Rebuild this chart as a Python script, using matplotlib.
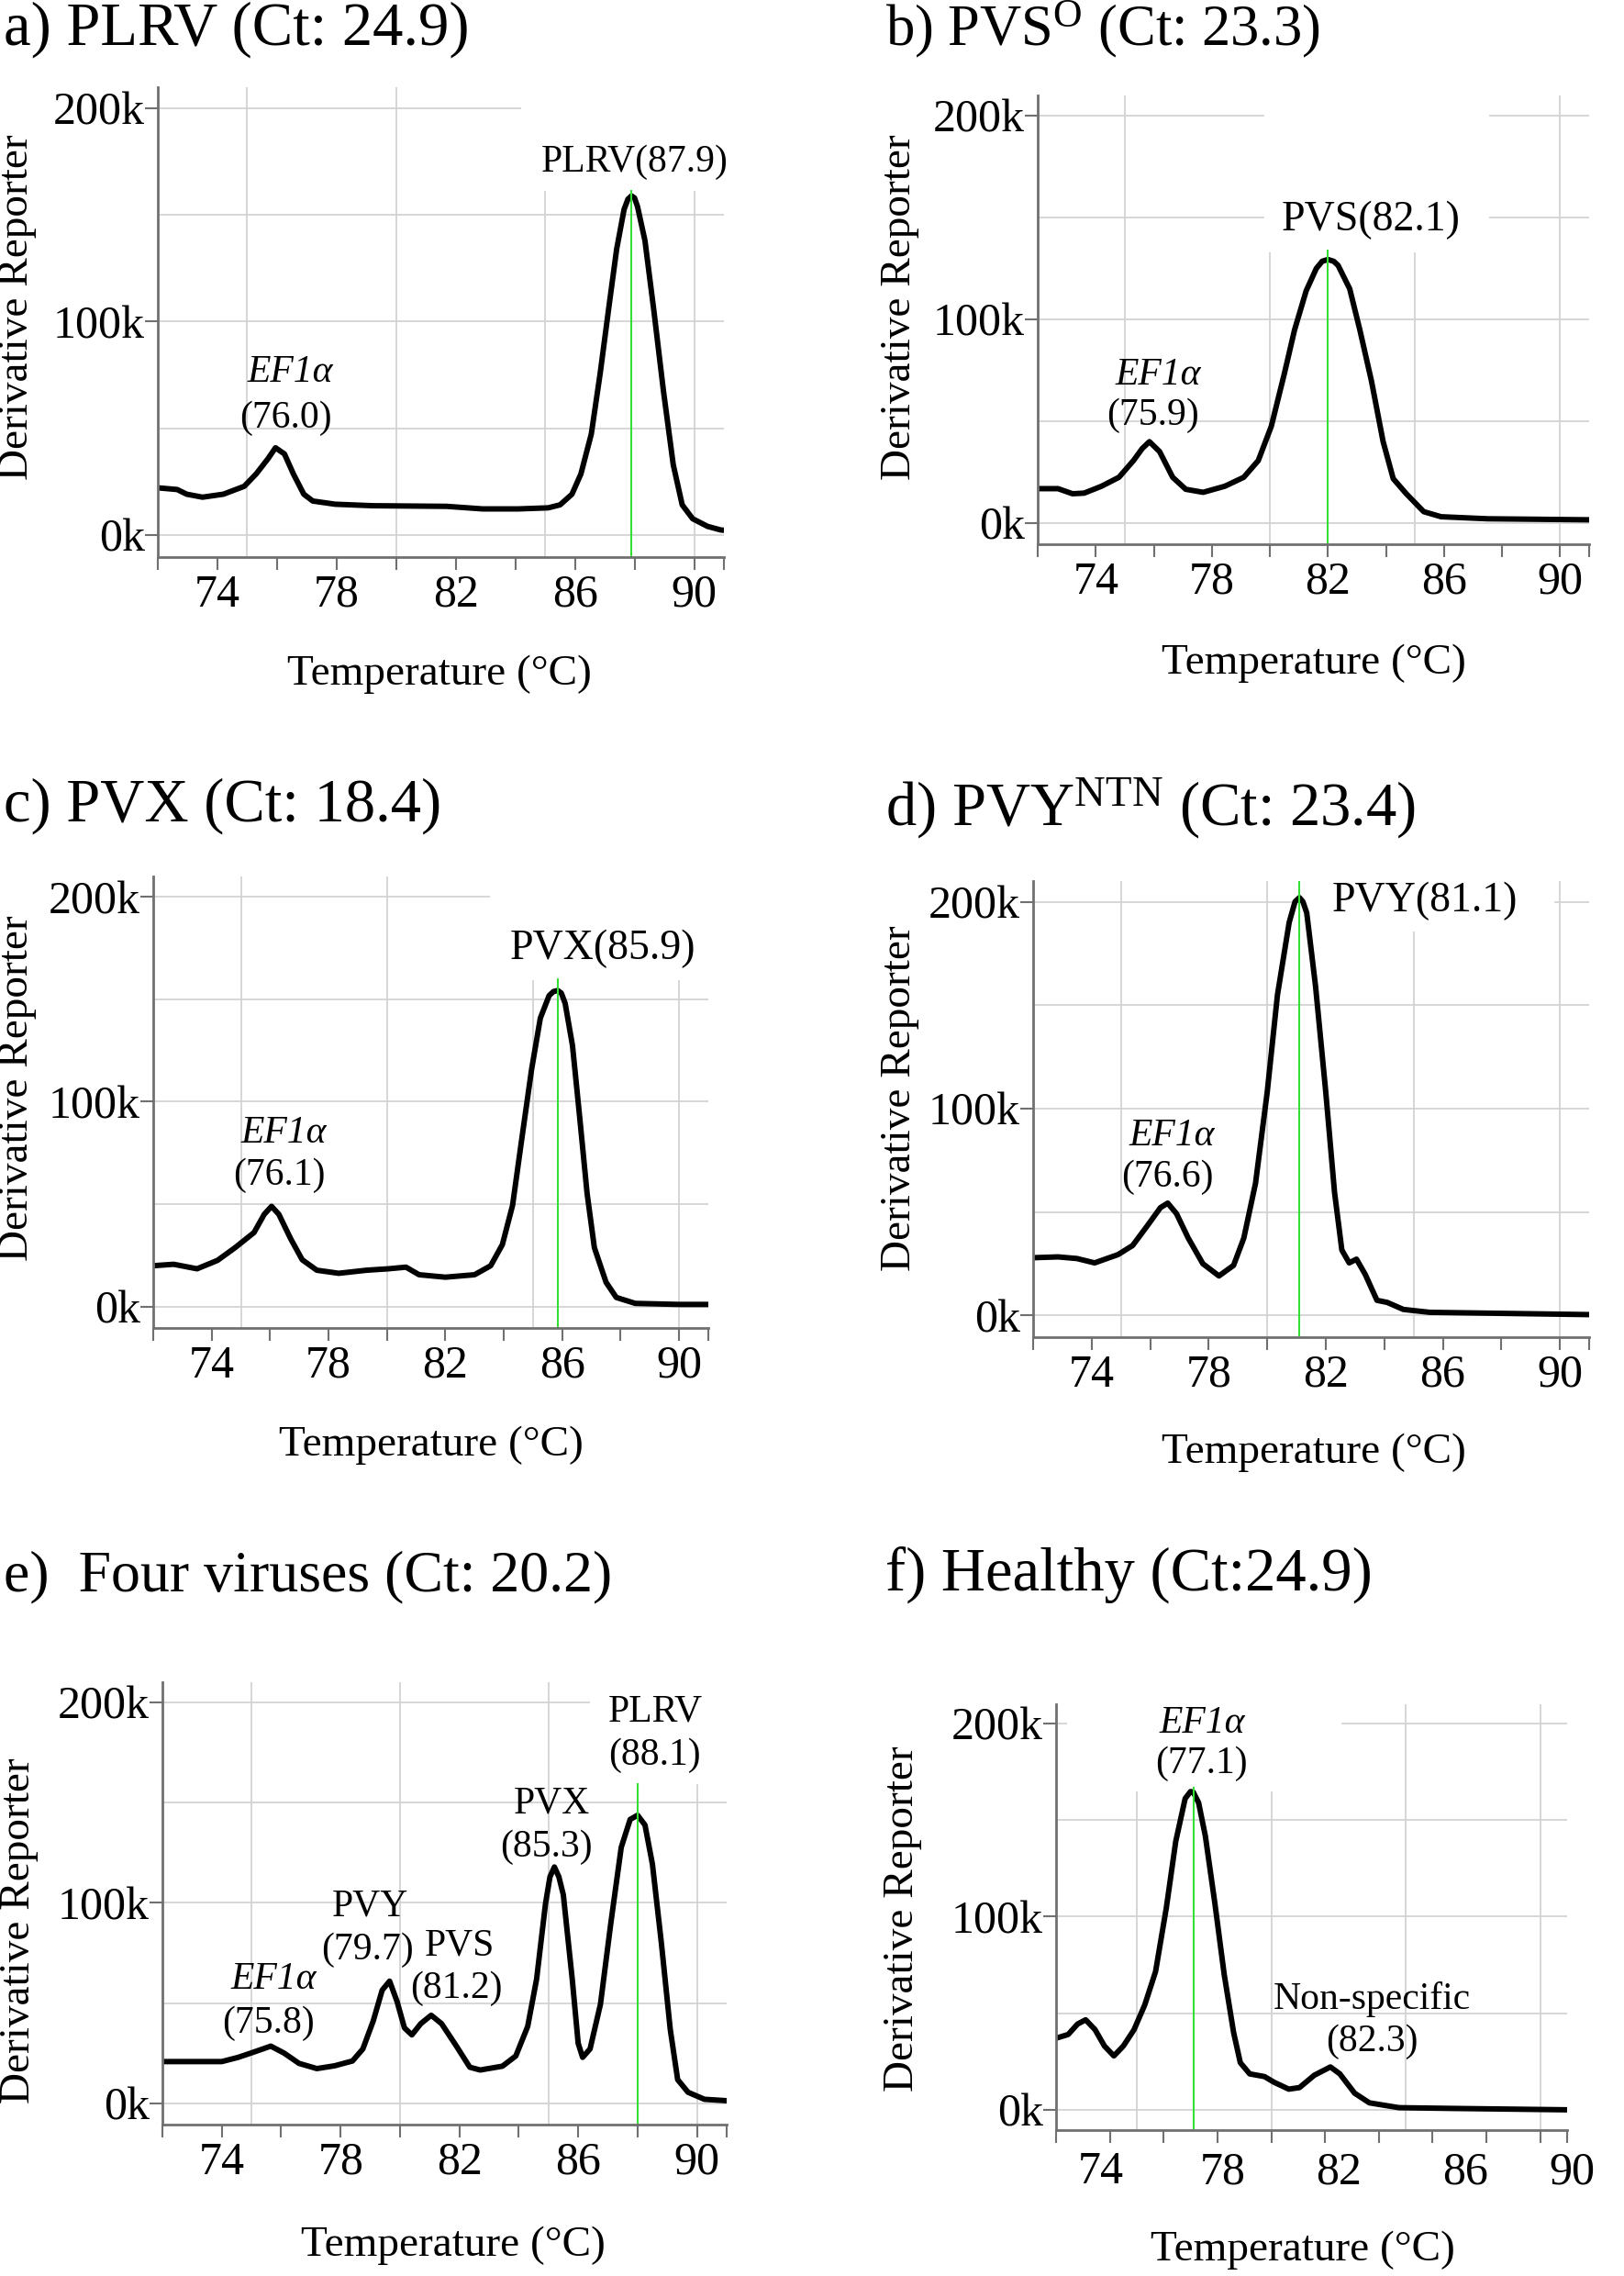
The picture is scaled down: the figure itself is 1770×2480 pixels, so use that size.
import numpy as np
import matplotlib.pyplot as plt
from matplotlib.patches import Rectangle

plt.rcParams['font.family'] = ['Liberation Serif', 'DejaVu Serif']
plt.rcParams['mathtext.fontset'] = 'custom'
plt.rcParams['mathtext.rm'] = 'Liberation Serif'
plt.rcParams['mathtext.it'] = 'Liberation Serif:italic'

# melt curves (temperature in degC, derivative reporter in thousands)
t_a = [72.0, 72.65, 72.97, 73.5, 74.2, 74.9, 75.3, 75.7, 75.95, 76.25, 76.55, 76.9, 77.2, 77.95,
       79.2, 81.7, 82.9, 84.1, 85.1, 85.5, 85.9, 86.2, 86.55, 86.85, 87.15, 87.4, 87.65, 87.78,
       87.9, 88.0, 88.1, 88.35, 88.65, 88.97, 89.3, 89.6, 89.95, 90.45, 90.9, 91.0]
v_a = [22, 21.2, 19, 17.6, 19, 22.7, 28.5, 35.7, 40.8, 37.9, 28.5, 19, 15.8, 14.3,
       13.6, 13.3, 12.1, 12.1, 12.6, 14, 19, 28.5, 47.3, 76, 108, 134, 152.7, 157.5,
       159, 158, 154, 138, 105, 67.5, 32.8, 14, 7.5, 3.9, 2.2, 2.1]

t_b = [72.0, 72.7, 73.2, 73.6, 74.2, 74.8, 75.3, 75.6, 75.85, 76.2, 76.65, 77.1, 77.7, 78.45,
       79.1, 79.6, 80.05, 80.5, 80.85, 81.25, 81.6, 81.8, 82.0, 82.2, 82.35, 82.75, 83.1, 83.5,
       83.9, 84.25, 84.7, 85.0, 85.3, 85.9, 87.5, 91.0]
v_b = [16.8, 16.8, 14.3, 14.6, 18, 22.4, 30.6, 36.5, 39.9, 35, 22.4, 16.5, 15, 18,
       22.4, 30.6, 47.5, 73.4, 94.8, 114, 125, 128.5, 129.4, 128.5, 126.5, 115, 94.8, 69.7,
       40, 21.7, 14.3, 9.9, 5.5, 3, 2, 1.5]

t_c = [72.0, 72.7, 73.5, 74.2, 74.8, 75.45, 75.8, 76.05, 76.3, 76.7, 77.1, 77.6, 78.35, 79.3,
       80.05, 80.65, 81.1, 82.0, 83.0, 83.55, 83.95, 84.3, 84.6, 84.95, 85.25, 85.55, 85.7, 85.85,
       85.97, 86.1, 86.35, 86.6, 86.85, 87.1, 87.5, 87.85, 88.5, 90.0, 91.0]
v_c = [19.9, 20.6, 18.4, 22.5, 28.7, 36.1, 45, 48.9, 45, 33.2, 22.8, 17.7, 16.2, 17.7,
       18.4, 19.2, 15.5, 14.3, 15.5, 19.9, 30.2, 49.4, 80.3, 115.7, 140.8, 151.8, 153.8, 154.3,
       153, 148, 127.5, 92, 55.3, 28.7, 11.8, 4.4, 1.5, 1.0, 1.0]

t_d = [72.0, 72.85, 73.5, 74.1, 74.9, 75.4, 75.9, 76.35, 76.6, 76.9, 77.3, 77.8, 78.35, 78.85,
       79.2, 79.6, 80.0, 80.35, 80.75, 80.95, 81.1, 81.22, 81.35, 81.65, 82.0, 82.3, 82.55, 82.8,
       83.05, 83.35, 83.75, 84.1, 84.65, 85.55, 91.0]
v_d = [27.9, 28.3, 27.5, 25.4, 29.4, 33.8, 43.3, 52.1, 54.3, 49.2, 37.4, 25, 19.1, 24.2,
       37.4, 63.9, 108, 155, 190, 200, 202, 200, 194.6, 159.3, 108, 59.5, 31.6, 25.4,
       27.2, 19.8, 7.3, 6.3, 2.9, 1.5, 0.4]

t_e = [72.0, 73.25, 74.0, 74.55, 75.05, 75.65, 76.1, 76.6, 77.2, 77.8, 78.4, 78.75, 79.1, 79.4,
       79.65, 79.9, 80.15, 80.4, 80.7, 81.05, 81.4, 81.9, 82.35, 82.7, 83.45, 83.9, 84.3, 84.6,
       84.9, 85.05, 85.2, 85.35, 85.5, 85.8, 86.0, 86.15, 86.4, 86.75, 87.1, 87.45, 87.75, 88.0,
       88.25, 88.5, 88.8, 89.1, 89.35, 89.7, 90.25, 91.0]
v_e = [20.9, 20.9, 20.9, 23, 25.5, 28.6, 25.1, 20, 17.4, 18.8, 21.2, 27.2, 41.2, 56.5,
       61, 50.9, 37.7, 34.2, 39.8, 44, 39.8, 28.6, 18.1, 16.7, 18.6, 23.7, 38.4, 62,
       99.6, 113, 117.9, 113, 104, 62, 30, 23, 27.2, 49.5, 90, 127.7, 141.6, 143.7,
       138.8, 119.3, 80.2, 37, 11.9, 5.6, 2.1, 1.4]

t_f = [72.03, 72.45, 72.8, 73.1, 73.45, 73.8, 74.15, 74.5, 74.9, 75.3, 75.7, 76.1, 76.45, 76.8,
       77.0, 77.1, 77.3, 77.55, 77.9, 78.25, 78.6, 78.85, 79.2, 79.75, 80.1, 80.65, 81.05, 81.6,
       82.2, 82.55, 83.1, 83.65, 84.75, 86.8, 91.0]
v_f = [37.2, 39, 44.4, 46.6, 41.5, 33, 27.9, 33, 41.5, 54.4, 71.6, 104.6, 139, 161.2,
       164.8, 164.5, 159, 141.8, 107.4, 70.2, 40.1, 24.4, 18.6, 17.2, 14.3, 10.7, 11.5, 17.9,
       22.2, 18.6, 8.6, 3.6, 1.1, 0.7, 0]

titles = ["a) PLRV (Ct: 24.9)", r"b) PVS$^{\mathrm{O}}$ (Ct: 23.3)", "c) PVX (Ct: 18.4)",
          r"d) PVY$^{\mathrm{NTN}}$ (Ct: 23.4)", "e)  Four viruses (Ct: 20.2)", "f) Healthy (Ct:24.9)"]
title_size = [48, 45, 48, 48, 46, 48]

tick_vals = [74, 78, 82, 86, 90]
tick_text = ['74', '78', '82', '86', '90']
# panel f: the tick labels sit a little off their ticks in the original
tick_pos_f = [73.65, 78.2, 82.5, 87.2, 91.2]

# green Tm marker (temperature, top in k)
tm_x = [87.9, 82.0, 85.85, 81.1, 88.0, 77.1]
tm_top = [161.4, 133.9, 159.9, 215, 159, 166.9]

# peak labels: (text, x, y, italic, size)
labels_a = [("EF1α", 76.44, 76.2, True, 30), ("(76.0)", 76.3, 54.5, False, 30),
            ("PLRV(87.9)", 88.0, 175, False, 30)]
labels_b = [("EF1α", 76.14, 72.6, True, 30), ("(75.9)", 75.97, 52.7, False, 30),
            ("PVS(82.1)", 83.48, 148.6, False, 33)]
labels_c = [("EF1α", 76.47, 84.7, True, 30), ("(76.1)", 76.3, 64.1, False, 30),
            ("PVX(85.9)", 87.39, 174.6, False, 33)]
labels_d = [("EF1α", 76.75, 86.6, True, 30), ("(76.6)", 76.6, 66.8, False, 30),
            ("PVY(81.1)", 85.38, 200.4, False, 33)]
labels_e = [("EF1α", 75.76, 62.1, True, 30), ("(75.8)", 75.58, 39.8, False, 30),
            ("PVY", 78.98, 98.4, False, 30), ("(79.7)", 78.92, 76.7, False, 30),
            ("PVS", 82.0, 78.8, False, 30), ("(81.2)", 81.89, 57.2, False, 30),
            ("PVX", 85.1, 149.3, False, 30), ("(85.3)", 84.92, 127.7, False, 30),
            ("PLRV", 88.6, 195.4, False, 30), ("(88.1)", 88.56, 173.7, False, 30)]
labels_f = [("EF1α", 77.44, 200, True, 30), ("(77.1)", 77.39, 179, False, 30),
            ("Non-specific", 83.73, 57.3, False, 30), ("(82.3)", 83.76, 35.1, False, 30)]

# white patches where the source screenshots hid the grid (x0, x1, y0, y1)
masks = [(84.2, 92, 161.4, 220), (79.8, 87.56, 133, 220), (83.53, 92, 159.2, 220),
         (81.24, 89.8, 185.8, 220), (86.4, 92, 159, 220), (72.4, 82.6, 165, 220)]

W, H = 1770, 2480
# layout in pixels: axes (left, right, top, bottom), title (x, y), ylabel (x, y), xlabel (x, y)
layout = [
    dict(ax=(172, 789, 95, 607), title=(4, 32), ylab=(19, 335), xlab=(479, 735)),
    dict(ax=(1131, 1732, 104, 593), title=(965, 32), ylab=(981, 335), xlab=(1432, 723)),
    dict(ax=(167, 772, 955, 1447), title=(4, 878), ylab=(19, 1186), xlab=(470, 1575)),
    dict(ax=(1126, 1732, 960, 1457), title=(965, 881), ylab=(981, 1197), xlab=(1432, 1583)),
    dict(ax=(177, 792, 1833, 2315), title=(4, 1718), ylab=(21, 2104), xlab=(494, 2447)),
    dict(ax=(1151, 1708, 1857, 2321), title=(965, 1716), ylab=(984, 2091), xlab=(1420, 2452)),
]

curves = [(t_a, v_a), (t_b, v_b), (t_c, v_c), (t_d, v_d), (t_e, v_e), (t_f, v_f)]
labels = [labels_a, labels_b, labels_c, labels_d, labels_e, labels_f]

fig = plt.figure(figsize=(W / 100, H / 100), dpi=100)
ymin, ymax = -10.5, 210
spine_col = '#707070'

for i, lay in enumerate(layout):
    l, r, t, b = lay['ax']
    ax = fig.add_axes([l / W, 1 - b / H, (r - l) / W, (b - t) / H])
    ax.set_xlim(72, 91)
    ax.set_ylim(ymin, ymax)

    # grid like the instrument software
    for gx in [75, 80, 85, 90]:
        ax.axvline(gx, color='#d0d0d0', lw=1.2, zorder=0)
    for gy in [0, 50, 100, 150, 200]:
        ax.axhline(gy, color='#d0d0d0', lw=1.2, zorder=0)
    x0, x1, y0, y1 = masks[i]
    ax.add_patch(Rectangle((x0, y0), x1 - x0, y1 - y0, facecolor='white', lw=0, zorder=1))

    tt, vv = curves[i]
    ax.plot(tt, vv, color='black', lw=4.3, solid_joinstyle='round', solid_capstyle='round', zorder=3)
    ax.plot([tm_x[i], tm_x[i]], [ymin, tm_top[i]], color='#33e033', lw=1.5, zorder=4)

    for txt, x, y, it, fs in labels[i]:
        ax.text(x, y, txt, ha='center', va='center', fontsize=fs,
                fontstyle='italic' if it else 'normal', zorder=5, clip_on=False)

    for s in ['top', 'right']:
        ax.spines[s].set_visible(False)
    for s in ['left', 'bottom']:
        ax.spines[s].set_color(spine_col)
        ax.spines[s].set_linewidth(2)
        ax.spines[s].set_zorder(6)

    ax.set_xticks(tick_vals)
    ax.set_xticks([72, 76, 80, 84, 88, 91], minor=True)
    ax.set_yticks([0, 100, 200])
    ax.set_yticklabels(['0k', '100k', '200k'])
    ax.tick_params(axis='x', which='both', direction='out', length=10, width=1.5,
                   color=spine_col, labelsize=36, pad=3)
    ax.tick_params(axis='y', direction='out', length=10, width=1.5, color=spine_col,
                   labelsize=36, pad=0)
    if i == 5:
        ax.set_xticklabels([])
        for xp, s in zip(tick_pos_f, tick_text):
            ax.annotate(s, xy=(xp, 0), xycoords=('data', 'axes fraction'),
                        xytext=(0, -33), textcoords='offset points',
                        ha='center', va='center', fontsize=36, annotation_clip=False)
    else:
        ax.set_xticklabels(tick_text)

    tx, ty = lay['title']
    fig.text(tx / W, 1 - ty / H, titles[i], fontsize=title_size[i], ha='left', va='center')
    yx, yy = lay['ylab']
    fig.text(yx / W, 1 - yy / H, "Derivative Reporter", fontsize=34, rotation=90,
             ha='center', va='center')
    xx, xy = lay['xlab']
    fig.text(xx / W, 1 - xy / H, "Temperature (°C)", fontsize=34, ha='center', va='center')

fig.savefig('out.png', dpi=100, facecolor='white')
